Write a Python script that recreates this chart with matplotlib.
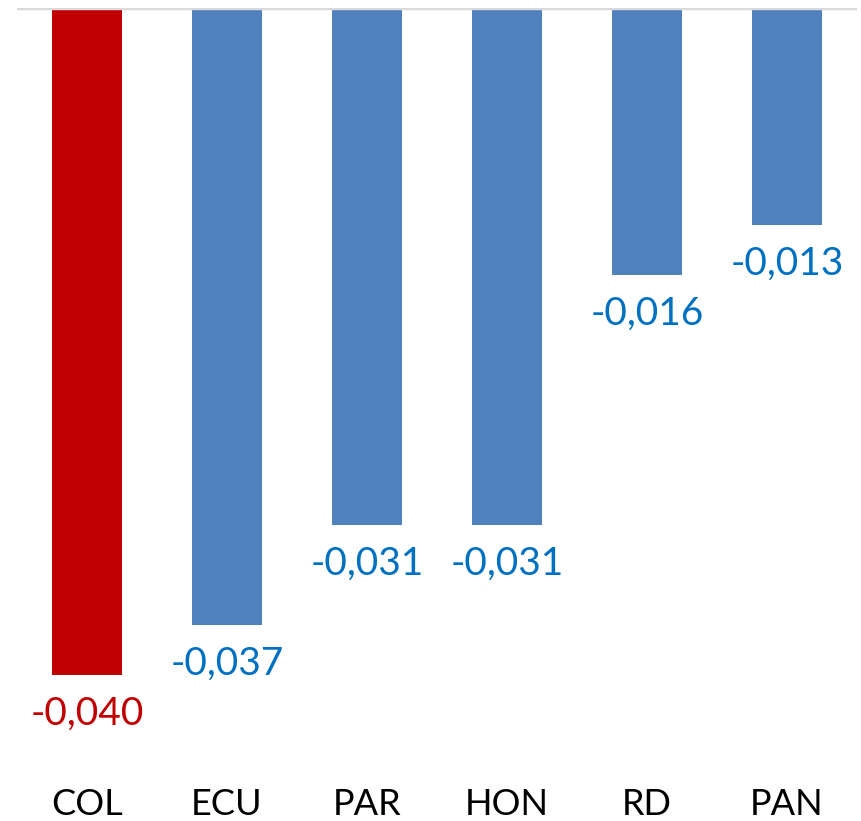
import matplotlib
matplotlib.use("Agg")
import matplotlib.pyplot as plt

categories = ["COL", "ECU", "PAR", "HON", "RD", "PAN"]
values = [-0.040, -0.037, -0.031, -0.031, -0.016, -0.013]
labels = ["-0,040", "-0,037", "-0,031", "-0,031", "-0,016", "-0,013"]
bar_colors = ["#C00000", "#4F81BD", "#4F81BD", "#4F81BD", "#4F81BD", "#4F81BD"]
label_colors = ["#C00000", "#0070C0", "#0070C0", "#0070C0", "#0070C0", "#0070C0"]

W, H = 862, 821
fig = plt.figure(figsize=(W / 100, H / 100), dpi=100)
ax_left, ax_right = 17, 857
ax_top, ax_bot = 8, 700
ax = fig.add_axes([ax_left / W, 1 - ax_bot / H, (ax_right - ax_left) / W, (ax_bot - ax_top) / H])

x = range(len(categories))
ax.bar(x, values, width=0.5, color=bar_colors, zorder=2)
ax.axhline(0, color="#D9D9D9", lw=2.5, zorder=3)
ax.set_xlim(-0.5, len(categories) - 0.5)
ax.set_ylim(-692 / 16675, 0)

font = "Lato"
for i, (v, lab, c) in enumerate(zip(values, labels, label_colors)):
    ax.annotate(lab, (i, v), xytext=(0, -15), textcoords="offset points",
                ha="center", va="top", fontsize=28, color=c, family=font)

ax.set_xticks(list(x))
ax.set_xticklabels(categories, fontsize=26, family=font, color="black")
ax.tick_params(axis="x", length=0, pad=63)
ax.set_yticks([])
for s in ax.spines.values():
    s.set_visible(False)

fig.savefig("out.png", dpi=100)
